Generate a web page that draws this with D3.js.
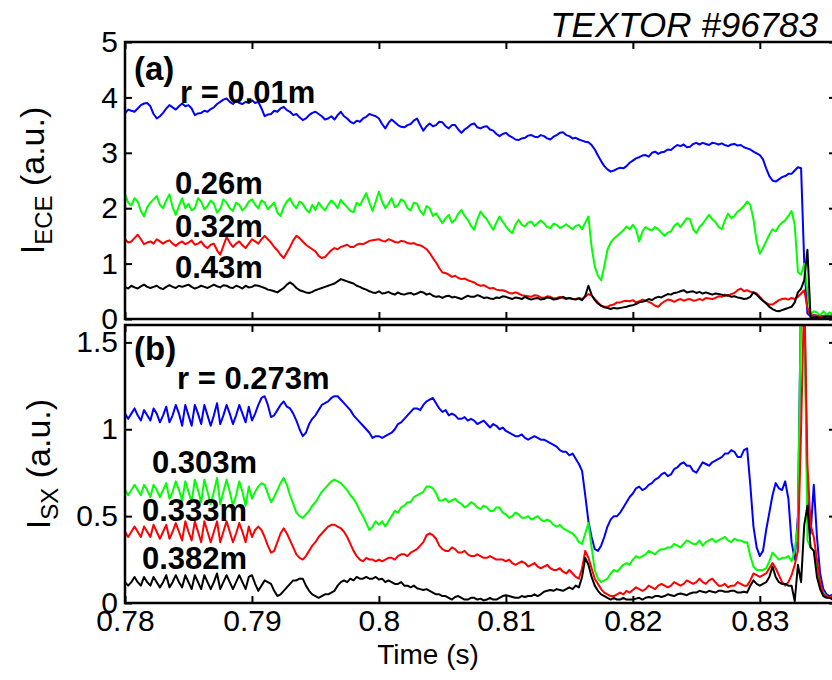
<!DOCTYPE html>
<html>
<head>
<meta charset="utf-8">
<script src="https://cdn.jsdelivr.net/npm/d3@7"></script>
<style>
  body { margin: 0; background: #fff; }
  text { font-family: "Liberation Sans", Arial, Helvetica, sans-serif; }
</style>
</head>
<body>
<svg id="chart" width="832" height="680"></svg>
<script>
// All channels start at t = 0.780 s and are sampled every 0.25 ms
const tStart = 0.78;
const sampleStep = 0.00025;

// (a) ECE intensity at four radii
const ece001 = [
  3.71, 3.78, 3.76, 3.74, 3.80, 3.86, 3.89, 3.90, 3.84, 3.70, 3.62, 3.66, 3.72, 3.80, 3.86, 3.82, 3.78, 3.84, 3.89, 3.84,
  3.86, 3.80, 3.68, 3.71, 3.72, 3.76, 3.74, 3.79, 3.82, 3.88, 3.92, 3.96, 3.98, 3.92, 3.88, 3.94, 3.90, 3.88, 3.92, 3.90,
  3.95, 3.90, 3.92, 3.80, 3.66, 3.69, 3.70, 3.76, 3.74, 3.80, 3.83, 3.77, 3.74, 3.68, 3.70, 3.64, 3.59, 3.62, 3.68, 3.72,
  3.74, 3.70, 3.66, 3.60, 3.62, 3.66, 3.60, 3.68, 3.74, 3.66, 3.62, 3.56, 3.53, 3.58, 3.56, 3.62, 3.65, 3.70, 3.68, 3.66,
  3.62, 3.52, 3.44, 3.54, 3.60, 3.55, 3.50, 3.47, 3.46, 3.50, 3.52, 3.58, 3.62, 3.50, 3.40, 3.48, 3.53, 3.48, 3.50, 3.56,
  3.55, 3.48, 3.44, 3.50, 3.50, 3.42, 3.36, 3.42, 3.46, 3.51, 3.53, 3.46, 3.44, 3.47, 3.48, 3.42, 3.40, 3.34, 3.30, 3.34,
  3.36, 3.31, 3.28, 3.24, 3.23, 3.26, 3.27, 3.31, 3.32, 3.29, 3.28, 3.32, 3.30, 3.26, 3.24, 3.29, 3.32, 3.36, 3.37, 3.32,
  3.30, 3.26, 3.27, 3.24, 3.22, 3.20, 3.19, 3.14, 3.06, 2.95, 2.85, 2.76, 2.70, 2.66, 2.68, 2.71, 2.73, 2.72, 2.76, 2.82,
  2.86, 2.90, 2.92, 2.95, 2.96, 2.93, 3.00, 3.02, 2.98, 3.01, 3.02, 3.06, 3.05, 3.10, 3.14, 3.12, 3.15, 3.10, 3.11, 3.16,
  3.18, 3.15, 3.18, 3.16, 3.14, 3.18, 3.17, 3.15, 3.17, 3.14, 3.12, 3.15, 3.16, 3.13, 3.14, 3.10, 3.08, 3.06, 3.02, 2.99,
  2.96, 2.88, 2.72, 2.58, 2.50, 2.48, 2.52, 2.56, 2.58, 2.62, 2.62, 2.68, 2.74, 2.72, 1.00, 0.10, 0.05, 0.07, 0.06, 0.04,
  0.05, 0.07, 0.06, 0.05, 0.05
];
const ece026 = [
  2.25, 2.10, 2.05, 2.18, 2.12, 1.95, 1.85, 2.02, 2.10, 2.16, 2.22, 2.06, 2.00, 2.14, 2.25, 2.02, 1.88, 2.04, 2.18, 2.00,
  2.08, 1.96, 2.00, 2.18, 2.12, 1.98, 2.04, 2.14, 2.08, 1.92, 1.98, 2.16, 2.10, 2.00, 1.95, 2.10, 2.06, 1.96, 2.02, 2.12,
  2.16, 2.06, 2.00, 2.14, 2.10, 1.98, 2.04, 2.10, 1.92, 1.86, 2.02, 2.12, 2.18, 2.06, 2.00, 2.12, 2.08, 1.98, 1.92, 2.06,
  1.97, 2.10, 2.02, 1.96, 2.06, 2.14, 2.08, 2.00, 2.15, 2.08, 2.02, 1.95, 1.93, 2.10, 2.05, 2.16, 2.27, 2.10, 1.95, 2.12,
  2.30, 2.12, 2.00, 2.08, 2.18, 2.02, 2.05, 2.16, 2.12, 2.00, 1.96, 2.10, 2.08, 1.95, 1.88, 2.04, 2.00, 1.86, 1.91, 1.82,
  1.73, 1.82, 1.88, 1.74, 1.79, 1.90, 1.97, 1.86, 1.79, 1.68, 1.61, 1.80, 1.94, 1.86, 1.80, 1.70, 1.61, 1.74, 1.85, 1.76,
  1.67, 1.60, 1.55, 1.70, 1.79, 1.70, 1.67, 1.74, 1.76, 1.68, 1.73, 1.78, 1.73, 1.66, 1.64, 1.72, 1.70, 1.64, 1.67, 1.71,
  1.66, 1.62, 1.68, 1.70, 1.62, 1.74, 1.85, 1.30, 0.95, 0.78, 0.70, 0.95, 1.25, 1.38, 1.45, 1.50, 1.55, 1.60, 1.67, 1.62,
  1.70, 1.62, 1.40, 1.58, 1.66, 1.62, 1.60, 1.66, 1.62, 1.56, 1.50, 1.56, 1.58, 1.68, 1.73, 1.66, 1.74, 1.82, 1.80, 1.62,
  1.55, 1.66, 1.72, 1.80, 1.88, 1.80, 1.75, 1.66, 1.62, 1.78, 1.90, 1.82, 1.86, 1.94, 1.98, 2.04, 2.12, 2.06, 1.80, 1.40,
  1.18, 1.28, 1.40, 1.52, 1.62, 1.58, 1.68, 1.74, 1.78, 1.86, 1.95, 1.70, 0.85, 0.80, 1.00, 0.50, 0.08, 0.14, 0.12, 0.06,
  0.14, 0.08, 0.12, 0.06, 0.10
];
const ece032 = [
  1.44, 1.38, 1.40, 1.46, 1.52, 1.44, 1.35, 1.38, 1.40, 1.36, 1.44, 1.40, 1.36, 1.40, 1.42, 1.36, 1.32, 1.37, 1.40, 1.35,
  1.38, 1.42, 1.34, 1.36, 1.40, 1.32, 1.28, 1.34, 1.36, 1.24, 1.16, 1.32, 1.48, 1.38, 1.30, 1.36, 1.40, 1.33, 1.28, 1.36,
  1.44, 1.40, 1.36, 1.44, 1.50, 1.44, 1.38, 1.30, 1.24, 1.16, 1.10, 1.20, 1.30, 1.42, 1.50, 1.46, 1.40, 1.34, 1.30, 1.26,
  1.22, 1.14, 1.10, 1.12, 1.18, 1.24, 1.28, 1.26, 1.30, 1.32, 1.34, 1.30, 1.30, 1.34, 1.36, 1.35, 1.38, 1.41, 1.42, 1.43,
  1.44, 1.41, 1.40, 1.44, 1.42, 1.39, 1.38, 1.41, 1.40, 1.37, 1.36, 1.37, 1.34, 1.33, 1.30, 1.26, 1.19, 1.10, 1.02, 0.92,
  0.84, 0.83, 0.80, 0.76, 0.78, 0.74, 0.72, 0.73, 0.70, 0.68, 0.66, 0.62, 0.60, 0.61, 0.58, 0.55, 0.56, 0.53, 0.52, 0.52,
  0.50, 0.47, 0.46, 0.48, 0.46, 0.43, 0.42, 0.41, 0.40, 0.43, 0.42, 0.39, 0.38, 0.41, 0.40, 0.37, 0.38, 0.40, 0.38, 0.36,
  0.38, 0.36, 0.36, 0.38, 0.36, 0.40, 0.45, 0.42, 0.36, 0.30, 0.24, 0.22, 0.22, 0.25, 0.26, 0.30, 0.30, 0.32, 0.33, 0.32,
  0.34, 0.30, 0.32, 0.35, 0.33, 0.31, 0.28, 0.24, 0.22, 0.28, 0.32, 0.35, 0.34, 0.31, 0.34, 0.36, 0.33, 0.35, 0.36, 0.33,
  0.34, 0.36, 0.34, 0.38, 0.37, 0.36, 0.38, 0.41, 0.40, 0.44, 0.42, 0.45, 0.47, 0.52, 0.55, 0.50, 0.52, 0.49, 0.48, 0.46,
  0.40, 0.33, 0.29, 0.26, 0.26, 0.30, 0.34, 0.36, 0.37, 0.35, 0.38, 0.36, 0.40, 0.46, 0.52, 0.20, 0.05, 0.07, 0.06, 0.04,
  0.06, 0.05, 0.05, 0.07, 0.07
];
const ece043 = [
  0.58, 0.55, 0.60, 0.57, 0.55, 0.59, 0.62, 0.58, 0.56, 0.58, 0.60, 0.56, 0.54, 0.58, 0.61, 0.58, 0.56, 0.60, 0.58, 0.60,
  0.62, 0.58, 0.55, 0.57, 0.60, 0.58, 0.56, 0.59, 0.62, 0.59, 0.57, 0.61, 0.60, 0.57, 0.56, 0.60, 0.58, 0.55, 0.60, 0.57,
  0.58, 0.61, 0.60, 0.58, 0.56, 0.53, 0.52, 0.50, 0.48, 0.52, 0.56, 0.62, 0.66, 0.62, 0.56, 0.52, 0.50, 0.48, 0.47, 0.49,
  0.52, 0.54, 0.56, 0.58, 0.60, 0.62, 0.64, 0.68, 0.72, 0.70, 0.68, 0.66, 0.64, 0.60, 0.58, 0.55, 0.53, 0.50, 0.48, 0.47,
  0.50, 0.46, 0.47, 0.49, 0.46, 0.44, 0.48, 0.45, 0.44, 0.46, 0.47, 0.44, 0.46, 0.49, 0.48, 0.44, 0.46, 0.42, 0.40, 0.41,
  0.38, 0.41, 0.42, 0.39, 0.40, 0.38, 0.36, 0.39, 0.42, 0.40, 0.40, 0.43, 0.41, 0.38, 0.39, 0.37, 0.36, 0.39, 0.38, 0.41,
  0.40, 0.38, 0.36, 0.39, 0.38, 0.36, 0.40, 0.37, 0.35, 0.37, 0.38, 0.35, 0.36, 0.39, 0.38, 0.35, 0.36, 0.38, 0.40, 0.37,
  0.38, 0.36, 0.35, 0.37, 0.34, 0.42, 0.60, 0.44, 0.34, 0.28, 0.24, 0.21, 0.20, 0.18, 0.20, 0.19, 0.20, 0.21, 0.22, 0.24,
  0.25, 0.27, 0.30, 0.31, 0.33, 0.36, 0.34, 0.38, 0.40, 0.39, 0.42, 0.45, 0.44, 0.47, 0.48, 0.50, 0.52, 0.48, 0.49, 0.50,
  0.47, 0.49, 0.46, 0.48, 0.46, 0.44, 0.46, 0.45, 0.44, 0.42, 0.43, 0.40, 0.41, 0.39, 0.38, 0.36, 0.37, 0.40, 0.48, 0.44,
  0.38, 0.33, 0.28, 0.22, 0.18, 0.15, 0.14, 0.16, 0.18, 0.20, 0.22, 0.30, 0.48, 0.55, 0.70, 1.25, 0.02, 0.03, 0.03, 0.02,
  0.03, 0.04, 0.04, 0.03, 0.03
];

// (b) soft X-ray intensity at four radii
const sx0273 = [
  1.09, 1.06, 1.09, 1.12, 1.08, 1.05, 1.11, 1.08, 1.05, 1.12, 1.09, 1.04, 1.08, 1.13, 1.04, 1.08, 1.14, 1.09, 1.02, 1.14,
  1.08, 1.02, 1.14, 1.09, 1.03, 1.14, 1.08, 1.02, 1.08, 1.15, 1.03, 1.08, 1.14, 1.09, 1.03, 1.08, 1.14, 1.09, 1.04, 1.13,
  1.05, 1.09, 1.14, 1.18, 1.19, 1.14, 1.07, 1.08, 1.11, 1.14, 1.16, 1.13, 1.12, 1.09, 1.05, 1.00, 0.96, 0.98, 1.03, 1.06,
  1.08, 1.11, 1.14, 1.15, 1.16, 1.18, 1.19, 1.19, 1.17, 1.15, 1.13, 1.11, 1.08, 1.06, 1.04, 1.02, 1.00, 0.98, 0.95, 0.96,
  0.96, 0.95, 0.96, 0.97, 0.98, 1.00, 1.03, 1.04, 1.06, 1.08, 1.10, 1.12, 1.12, 1.11, 1.14, 1.16, 1.17, 1.18, 1.15, 1.12,
  1.10, 1.11, 1.08, 1.09, 1.08, 1.06, 1.06, 1.07, 1.05, 1.06, 1.05, 1.03, 1.04, 1.05, 1.03, 1.01, 1.03, 1.02, 1.00, 1.01,
  0.99, 0.98, 0.97, 0.96, 0.96, 0.97, 0.95, 0.94, 0.95, 0.96, 0.95, 0.94, 0.94, 0.93, 0.92, 0.91, 0.90, 0.88, 0.87, 0.87,
  0.85, 0.86, 0.83, 0.80, 0.76, 0.62, 0.47, 0.38, 0.31, 0.30, 0.33, 0.38, 0.44, 0.48, 0.50, 0.50, 0.52, 0.55, 0.58, 0.61,
  0.63, 0.66, 0.67, 0.65, 0.66, 0.68, 0.69, 0.71, 0.72, 0.74, 0.75, 0.73, 0.74, 0.77, 0.78, 0.80, 0.81, 0.79, 0.79, 0.76,
  0.75, 0.78, 0.81, 0.80, 0.79, 0.81, 0.82, 0.83, 0.84, 0.86, 0.86, 0.88, 0.87, 0.84, 0.84, 0.88, 0.89, 0.68, 0.44, 0.32,
  0.27, 0.30, 0.42, 0.52, 0.62, 0.69, 0.66, 0.65, 0.70, 0.60, 0.35, 0.25, 0.50, 1.80, 1.80, 0.60, 0.40, 0.68, 0.38, 0.17,
  0.08, 0.05, 0.04, 0.05, 0.06
];
const sx0303 = [
  0.65, 0.62, 0.65, 0.68, 0.65, 0.62, 0.68, 0.65, 0.61, 0.68, 0.65, 0.61, 0.65, 0.69, 0.60, 0.64, 0.70, 0.65, 0.59, 0.70,
  0.64, 0.58, 0.71, 0.65, 0.58, 0.71, 0.64, 0.57, 0.64, 0.72, 0.57, 0.64, 0.71, 0.64, 0.56, 0.62, 0.70, 0.64, 0.56, 0.67,
  0.60, 0.64, 0.67, 0.69, 0.68, 0.63, 0.58, 0.61, 0.65, 0.69, 0.72, 0.68, 0.62, 0.57, 0.52, 0.50, 0.49, 0.51, 0.53, 0.56,
  0.58, 0.61, 0.64, 0.66, 0.68, 0.70, 0.71, 0.70, 0.69, 0.67, 0.65, 0.62, 0.60, 0.57, 0.53, 0.50, 0.46, 0.42, 0.44, 0.47,
  0.45, 0.47, 0.44, 0.47, 0.50, 0.53, 0.52, 0.55, 0.56, 0.58, 0.58, 0.61, 0.62, 0.63, 0.64, 0.67, 0.67, 0.66, 0.63, 0.59,
  0.59, 0.60, 0.58, 0.59, 0.60, 0.58, 0.57, 0.55, 0.56, 0.58, 0.57, 0.55, 0.54, 0.56, 0.55, 0.53, 0.53, 0.55, 0.55, 0.52,
  0.51, 0.49, 0.50, 0.52, 0.51, 0.49, 0.49, 0.50, 0.48, 0.49, 0.50, 0.48, 0.47, 0.48, 0.47, 0.45, 0.44, 0.45, 0.43, 0.42,
  0.41, 0.40, 0.38, 0.35, 0.34, 0.40, 0.46, 0.32, 0.19, 0.14, 0.12, 0.13, 0.14, 0.17, 0.19, 0.18, 0.20, 0.22, 0.23, 0.22,
  0.25, 0.27, 0.26, 0.27, 0.28, 0.30, 0.29, 0.28, 0.30, 0.31, 0.31, 0.32, 0.32, 0.34, 0.33, 0.32, 0.34, 0.36, 0.35, 0.34,
  0.34, 0.36, 0.33, 0.35, 0.36, 0.37, 0.35, 0.36, 0.37, 0.38, 0.36, 0.35, 0.37, 0.36, 0.36, 0.35, 0.35, 0.27, 0.21, 0.19,
  0.19, 0.19, 0.20, 0.24, 0.29, 0.27, 0.25, 0.26, 0.26, 0.27, 0.24, 0.30, 0.45, 1.80, 1.80, 0.36, 0.32, 0.30, 0.20, 0.10,
  0.06, 0.04, 0.03, 0.04, 0.05
];
const sx0333 = [
  0.41, 0.38, 0.41, 0.44, 0.41, 0.38, 0.44, 0.41, 0.38, 0.45, 0.41, 0.37, 0.41, 0.45, 0.37, 0.41, 0.46, 0.41, 0.36, 0.47,
  0.41, 0.36, 0.47, 0.41, 0.35, 0.47, 0.41, 0.35, 0.41, 0.47, 0.35, 0.41, 0.47, 0.41, 0.35, 0.40, 0.46, 0.41, 0.35, 0.44,
  0.38, 0.42, 0.44, 0.42, 0.38, 0.33, 0.29, 0.30, 0.35, 0.40, 0.43, 0.40, 0.36, 0.32, 0.28, 0.26, 0.25, 0.27, 0.30, 0.33,
  0.35, 0.38, 0.40, 0.42, 0.44, 0.45, 0.45, 0.44, 0.43, 0.41, 0.38, 0.34, 0.30, 0.27, 0.25, 0.24, 0.26, 0.25, 0.25, 0.24,
  0.25, 0.24, 0.25, 0.26, 0.26, 0.25, 0.27, 0.28, 0.28, 0.27, 0.29, 0.30, 0.31, 0.33, 0.35, 0.39, 0.40, 0.39, 0.37, 0.33,
  0.31, 0.30, 0.30, 0.32, 0.31, 0.29, 0.29, 0.30, 0.28, 0.27, 0.27, 0.28, 0.27, 0.26, 0.26, 0.27, 0.26, 0.25, 0.25, 0.25,
  0.24, 0.25, 0.23, 0.22, 0.23, 0.24, 0.23, 0.21, 0.22, 0.23, 0.21, 0.20, 0.21, 0.22, 0.20, 0.19, 0.19, 0.20, 0.18, 0.17,
  0.19, 0.17, 0.15, 0.14, 0.20, 0.30, 0.26, 0.20, 0.14, 0.11, 0.08, 0.06, 0.05, 0.04, 0.04, 0.05, 0.06, 0.05, 0.07, 0.06,
  0.075, 0.09, 0.08, 0.07, 0.08, 0.10, 0.09, 0.08, 0.10, 0.11, 0.10, 0.09, 0.10, 0.12, 0.11, 0.10, 0.11, 0.13, 0.12, 0.11,
  0.12, 0.14, 0.12, 0.11, 0.13, 0.14, 0.12, 0.10, 0.10, 0.11, 0.09, 0.10, 0.10, 0.12, 0.11, 0.10, 0.10, 0.13, 0.17, 0.16,
  0.15, 0.16, 0.17, 0.20, 0.23, 0.20, 0.16, 0.12, 0.10, 0.12, 0.16, 0.22, 0.30, 1.00, 1.80, 0.80, 0.45, 0.38, 0.25, 0.12,
  0.05, 0.04, 0.03, 0.04, 0.04
];
const sx0382 = [
  0.12, 0.10, 0.12, 0.15, 0.12, 0.10, 0.15, 0.12, 0.10, 0.15, 0.12, 0.09, 0.12, 0.16, 0.09, 0.12, 0.16, 0.12, 0.09, 0.16,
  0.12, 0.08, 0.16, 0.12, 0.08, 0.16, 0.12, 0.08, 0.12, 0.17, 0.08, 0.12, 0.16, 0.12, 0.08, 0.12, 0.16, 0.12, 0.08, 0.15,
  0.16, 0.11, 0.07, 0.10, 0.13, 0.12, 0.11, 0.07, 0.04, 0.05, 0.07, 0.09, 0.11, 0.13, 0.13, 0.14, 0.14, 0.10, 0.07, 0.05,
  0.04, 0.03, 0.04, 0.05, 0.05, 0.06, 0.07, 0.10, 0.12, 0.13, 0.12, 0.14, 0.13, 0.15, 0.14, 0.14, 0.15, 0.14, 0.14, 0.15,
  0.135, 0.14, 0.12, 0.13, 0.12, 0.11, 0.11, 0.12, 0.10, 0.10, 0.09, 0.10, 0.085, 0.08, 0.075, 0.08, 0.07, 0.06, 0.05, 0.05,
  0.04, 0.04, 0.03, 0.02, 0.035, 0.04, 0.03, 0.02, 0.02, 0.03, 0.03, 0.02, 0.025, 0.015, 0.02, 0.03, 0.02, 0.02, 0.03, 0.04,
  0.045, 0.04, 0.035, 0.03, 0.03, 0.04, 0.035, 0.04, 0.04, 0.05, 0.04, 0.05, 0.065, 0.07, 0.075, 0.07, 0.08, 0.075, 0.07, 0.08,
  0.09, 0.08, 0.10, 0.09, 0.15, 0.26, 0.22, 0.15, 0.10, 0.07, 0.05, 0.04, 0.03, 0.02, 0.03, 0.02, 0.02, 0.03, 0.02, 0.02,
  0.02, 0.025, 0.03, 0.02, 0.03, 0.035, 0.03, 0.04, 0.04, 0.035, 0.04, 0.05, 0.045, 0.04, 0.05, 0.055, 0.05, 0.045, 0.055, 0.06,
  0.06, 0.07, 0.065, 0.06, 0.07, 0.065, 0.06, 0.07, 0.07, 0.065, 0.065, 0.07, 0.07, 0.06, 0.06, 0.065, 0.06, 0.10, 0.13, 0.11,
  0.10, 0.11, 0.12, 0.15, 0.21, 0.15, 0.12, 0.11, 0.11, 0.10, 0.10, 0.01, 0.22, 0.12, 0.45, 0.56, 0.32, 0.30, 0.15, 0.08,
  0.04, 0.03, 0.03, 0.02, 0.03
];

// Axis ticks and their printed labels
const timeTicks = [0.78, 0.79, 0.80, 0.81, 0.82, 0.83];
const timeTickLabels = ["0.78", "0.79", "0.8", "0.81", "0.82", "0.83"];
const eceTicks = [0, 1, 2, 3, 4, 5];
const eceTickLabels = ["0", "1", "2", "3", "4", "5"];
const sxTicks = [0, 0.5, 1, 1.5];
const sxTickLabels = ["0", "0.5", "1", "1.5"];

// Curve labels
const eceNames = ["r = 0.01m", "0.26m", "0.32m", "0.43m"];
const sxNames = ["r = 0.273m", "0.303m", "0.333m", "0.382m"];
const colors = ["#0000ff", "#00ff00", "#ff0000", "#000000"];

const svg = d3.select("#chart");
const left = 125, right = 836;
const x = d3.scaleLinear().domain([0.78, 0.836]).range([left, right]);

const panels = [
  { id: "a", top: 42, bottom: 319, domain: [0, 5], ticks: eceTicks, labels: eceTickLabels,
    series: [ece001, ece026, ece032, ece043], names: eceNames,
    nameAt: [[180, 103], [175, 194], [175, 237], [175, 278]],
    tag: "(a)", tagAt: [134, 80], ySub: "ECE", yLabelX: 44 },
  { id: "b", top: 325, bottom: 603, domain: [0, 1.6], ticks: sxTicks, labels: sxTickLabels,
    series: [sx0273, sx0303, sx0333, sx0382], names: sxNames,
    nameAt: [[177, 389], [152, 473], [142, 521], [142, 569]],
    tag: "(b)", tagAt: [134, 360], ySub: "SX", yLabelX: 50 }
];

const tickLen = 7;

panels.forEach((p, k) => {
  const y = d3.scaleLinear().domain(p.domain).range([p.bottom, p.top]);
  const g = svg.append("g");

  g.append("clipPath").attr("id", "clip-" + p.id)
    .append("rect").attr("x", left).attr("y", p.top)
    .attr("width", right - left).attr("height", p.bottom - p.top);

  const line = d3.line()
    .x((d, i) => x(tStart + i * sampleStep))
    .y(d => y(d));

  g.append("g").attr("clip-path", "url(#clip-" + p.id + ")")
    .selectAll("path").data(p.series).join("path")
    .attr("d", line)
    .attr("fill", "none")
    .attr("stroke", (d, i) => colors[i])
    .attr("stroke-width", 2)
    .attr("stroke-linejoin", "round");

  // inward ticks on all four sides
  const axL = d3.axisLeft(y).tickValues(p.ticks)
    .tickFormat((d, i) => p.labels[i]).tickSizeInner(-tickLen).tickSizeOuter(0).tickPadding(7);
  const axR = d3.axisRight(y).tickValues(p.ticks).tickFormat("").tickSizeInner(-tickLen).tickSizeOuter(0);
  const axT = d3.axisTop(x).tickValues(timeTicks).tickFormat("").tickSizeInner(-tickLen).tickSizeOuter(0);
  const axB = d3.axisBottom(x).tickValues(timeTicks)
    .tickFormat((d, i) => k === 1 ? timeTickLabels[i] : "")
    .tickSizeInner(-tickLen).tickSizeOuter(0).tickPadding(7);

  const styleAxis = sel => {
    sel.select(".domain").remove();
    sel.selectAll(".tick line").attr("stroke", "#000").attr("stroke-width", 2);
    sel.selectAll(".tick text").attr("fill", "#000").attr("font-size", 30)
      .attr("font-family", "Liberation Sans, Arial, sans-serif");
  };
  g.append("g").attr("transform", `translate(${left},0)`).call(axL).call(styleAxis);
  g.append("g").attr("transform", `translate(${right},0)`).call(axR).call(styleAxis);
  g.append("g").attr("transform", `translate(0,${p.top})`).call(axT).call(styleAxis);
  g.append("g").attr("transform", `translate(0,${p.bottom})`).call(axB).call(styleAxis);

  // frame
  g.append("rect").attr("x", left).attr("y", p.top)
    .attr("width", right - left).attr("height", p.bottom - p.top)
    .attr("fill", "none").attr("stroke", "#000").attr("stroke-width", 2.5);

  // panel tag and curve names
  g.append("text").attr("x", p.tagAt[0]).attr("y", p.tagAt[1])
    .attr("font-size", 33).attr("font-weight", "bold").text(p.tag);
  g.selectAll("text.name").data(p.names).join("text").attr("class", "name")
    .attr("x", (d, i) => p.nameAt[i][0]).attr("y", (d, i) => p.nameAt[i][1])
    .attr("font-size", 31).attr("font-weight", "bold").text(d => d);

  // y axis label: I with subscript, then units
  const cy = (p.top + p.bottom) / 2;
  const lab = g.append("text")
    .attr("transform", `translate(${p.yLabelX},${cy}) rotate(-90)`)
    .attr("text-anchor", "middle").attr("font-size", 34);
  lab.append("tspan").text("I");
  lab.append("tspan").attr("font-size", 24).attr("dy", 8).text(p.ySub);
  lab.append("tspan").attr("dy", -8).text(" (a.u.)");
});

// x axis title
svg.append("text").attr("x", 428).attr("y", 664).attr("text-anchor", "middle")
  .attr("font-size", 28).text("Time (s)");

// shot number
svg.append("text").attr("x", 818).attr("y", 37).attr("text-anchor", "end")
  .attr("font-size", 35).attr("font-style", "italic").text("TEXTOR #96783");
</script>
</body>
</html>
